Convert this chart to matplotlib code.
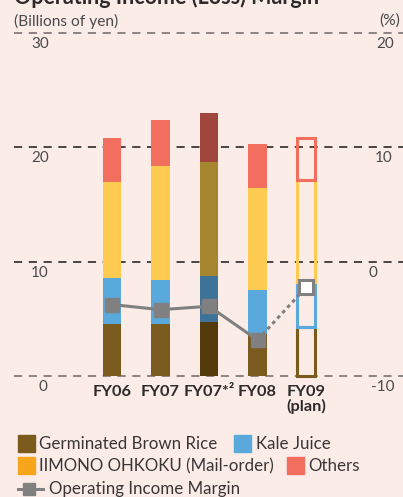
import matplotlib
matplotlib.use("Agg")
import matplotlib.pyplot as plt
from matplotlib.patches import Rectangle
from matplotlib.lines import Line2D
import matplotlib.transforms as mtransforms
import numpy as np

plt.rcParams['font.family'] = ['Lato', 'DejaVu Sans']

# data (billions of yen)
years = ['FY06', 'FY07', 'FY07*²', 'FY08', 'FY09\n(plan)']
rice = [4.55, 4.55, 4.7, 3.65, 4.3]
kale = [4.0, 3.85, 4.05, 3.85, 3.9]
iimono = [8.4, 10.0, 9.95, 8.9, 8.9]
others = [3.85, 4.0, 4.3, 3.9, 3.75]
margin = [-3.75, -4.2, -3.9, -6.85, -2.25]  # %

col_rice = '#7b5a1e'
col_kale = '#5aa9dc'
col_iimono = '#ffca50'
col_others = '#f26e5f'
dark_cols = ['#523a0a', '#3d7399', '#a6852f', '#a0463d']
legend_iimono = '#f7a61c'
bg = '#fbece8'

W, H = 403, 497
fig = plt.figure(figsize=(W / 100, H / 100), dpi=100, facecolor=bg)

# axes placement in pixels: y 0 -> 376px, y 30 -> 33px
ppu = (376 - 33) / 30.0
y_lo, y_hi = -0.5, 30.5
ax_bot = 376 + 0.5 * ppu
ax_top = 33 - 0.5 * ppu
ax_left, ax_right = 14, 403
ax = fig.add_axes([ax_left / W, 1 - ax_bot / H, (ax_right - ax_left) / W, (ax_bot - ax_top) / H])
ax.set_facecolor(bg)
ax.set_ylim(y_lo, y_hi)
step = 48.5
x0 = 112
ax.set_xlim((ax_left - x0) / step, (ax_right - x0) / step)
for s in ax.spines.values():
    s.set_visible(False)
ax.set_xticks([])
ax.set_yticks([])

# grid lines
for g in [0, 10, 20, 30]:
    c = '#8a8483' if g in (0, 30) else '#4a4444'
    ax.axhline(g, color=c, lw=1.4, ls=(0, (4.2, 3.4)), zorder=1)

x = np.arange(len(years))
w = 0.39
segs = [rice, kale, iimono, others]
cols = [col_rice, col_kale, col_iimono, col_others]
for i in range(len(years)):
    bottom = 0
    for k, vals in enumerate(segs):
        v = vals[i]
        if i == 4:
            # plan year: outlined only
            ax.bar(x[i], v, w * 0.92, bottom=bottom, facecolor='none', edgecolor=cols[k],
                   lw=2.2, zorder=3)
        else:
            fc = dark_cols[k] if i == 2 else cols[k]
            ax.bar(x[i], v, w, bottom=bottom, color=fc, lw=0, zorder=3)
        bottom += v

# margin line on right scale: right = left - 10
ml = [m + 10 for m in margin]
ax.plot(x[:4], ml[:4], color='#808080', lw=2.2, marker='s', ms=10, zorder=5)
ax.plot(x[3:], ml[3:], color='#808080', lw=2.2, ls=(0, (1.2, 1.2)), zorder=4)
ax.plot(x[4], ml[4], marker='s', ms=10, mfc='white', mec='#808080', mew=2.2, zorder=6)

# tick labels under the grid lines
trans_l = mtransforms.blended_transform_factory(fig.transFigure, ax.transData)
left_ticks = [(30, '30', 40), (20, '20', 40), (10, '10', 40), (0, '0', 43)]
right_ticks = [(30, '20', 385), (20, '10', 384), (10, '0', 373), (0, '-10', 383)]
for v, lab, px in left_ticks:
    ax.text(px / W, v - 0.95, lab, transform=trans_l, ha='center', va='center',
            fontsize=11, color='#4a4a4a')
for v, lab, px in right_ticks:
    ax.text(px / W, v - 0.95, lab, transform=trans_l, ha='center', va='center',
            fontsize=11, color='#4a4a4a')

for i, lab in enumerate(years):
    ax.text(x[i], -0.75, lab, ha='center', va='top', fontsize=11.8, fontweight='bold',
            color='#2e2a2a', linespacing=1.0)

fig.text(14 / W, 1 - 21 / H, '(Billions of yen)', ha='left', va='center', fontsize=11.2,
         color='#4a4a4a')
fig.text(400 / W, 1 - 21 / H, '(%)', ha='right', va='center', fontsize=11.2, color='#4a4a4a')
fig.text(14 / W, 1 - 4 / H, 'Operating Income (Loss) Margin', ha='left', va='baseline',
         fontsize=15.5, fontweight='bold', color='#2e2a2a')

# legend
def patch(px, py, c):
    fig.patches.append(Rectangle((px / W, 1 - (py + 8.5) / H), 17 / W, 17 / H,
                                 transform=fig.transFigure, color=c))

fs = 12.2
tc = '#3a3535'
patch(18, 443, col_rice)
fig.text(39 / W, 1 - 444 / H, 'Germinated Brown Rice', va='center', fontsize=fs, color=tc)
patch(234, 443, col_kale)
fig.text(256 / W, 1 - 444 / H, 'Kale Juice', va='center', fontsize=fs, color=tc)
patch(18, 465, legend_iimono)
fig.text(39 / W, 1 - 466 / H, 'IIMONO OHKOKU (Mail-order)', va='center', fontsize=fs, color=tc)
patch(287, 465, col_others)
fig.text(308 / W, 1 - 466 / H, 'Others', va='center', fontsize=fs, color=tc)
fig.lines.append(Line2D([18 / W, 43 / W], [1 - 489 / H, 1 - 489 / H], transform=fig.transFigure,
                        color='#808080', lw=2.2))
fig.lines.append(Line2D([29 / W], [1 - 489 / H], transform=fig.transFigure,
                        color='#808080', marker='s', ms=8, ls='none'))
fig.text(49 / W, 1 - 489 / H, 'Operating Income Margin', va='center', fontsize=fs, color=tc)

fig.savefig('out.png', dpi=100, facecolor=bg)
